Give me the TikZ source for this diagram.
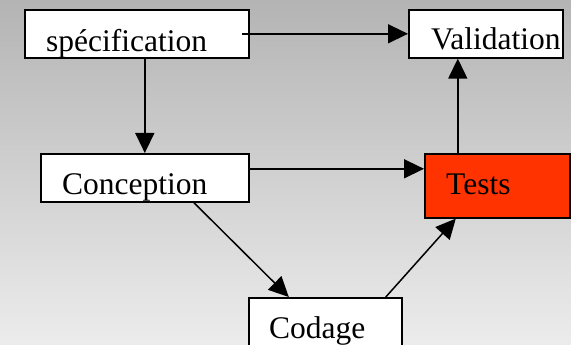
\documentclass[tikz,border=0pt]{standalone}
\usepackage{fontspec}
\setmainfont{Liberation Serif}
\usetikzlibrary{arrows.meta}
\definecolor{testred}{HTML}{FF3300}
\definecolor{bgtop}{HTML}{B4B4B4}
\definecolor{bgbot}{HTML}{ECECEC}
\tikzset{
  box/.style={draw=black, line width=1.6pt, fill=white, inner sep=0pt, anchor=north west},
  lbl/.style={inner sep=0pt, anchor=base west, font=\fontsize{31.5}{36}\selectfont},
  arr/.style={line width=1.5pt, -{Triangle[length=20pt,width=19pt]}}
}
\begin{document}
\begin{tikzpicture}[x=1pt,y=-1pt]
  \useasboundingbox (0,0) rectangle (571,345);
  \clip (0,0) rectangle (571,345);
  \shade[top color=bgtop, bottom color=bgbot] (0,0) rectangle (571,345);

  % boxes
  \node[box, minimum width=224pt, minimum height=48pt] (spec) at (24,9) {};
  \node[box, minimum width=154pt, minimum height=48pt] (valid) at (408,9) {};
  \node[box, minimum width=208pt, minimum height=48pt] (conc) at (40,153) {};
  \node[box, fill=testred, minimum width=145pt, minimum height=64pt] (tests) at (424,153) {};
  \node[box, minimum width=153pt, minimum height=70pt] (codage) at (248,297) {};

  % labels
  \node[lbl] (spectxt) at (46,52) {spécification};
  \node[lbl] (validtxt) at (431,50) {Validation};
  \node[lbl] (conctxt) at (62,194) {Conception};
  \node[lbl] (teststxt) at (446,194) {Tests};
  \node[lbl] (codagetxt) at (269,338) {Codage};

  % connectors
  \draw[arr] ([xshift=-8pt]spec.east) -- (valid.west);
  \draw[arr] ([xshift=8pt]spec.south) -- (conc.north);
  \draw[arr] ([yshift=9pt]conc.east) coordinate (c1) -- (c1 -| tests.west);
  \coordinate (v1) at ([xshift=-28pt]valid.south);
  \draw[arr] (tests.north -| v1) -- (v1);
  \draw[arr] ([xshift=49pt]conc.south) -- ([xshift=-36.5pt]codage.north);
  \draw[arr] ([xshift=60.5pt]codage.north) -- ([xshift=-41.5pt]tests.south);
\end{tikzpicture}
\end{document}
